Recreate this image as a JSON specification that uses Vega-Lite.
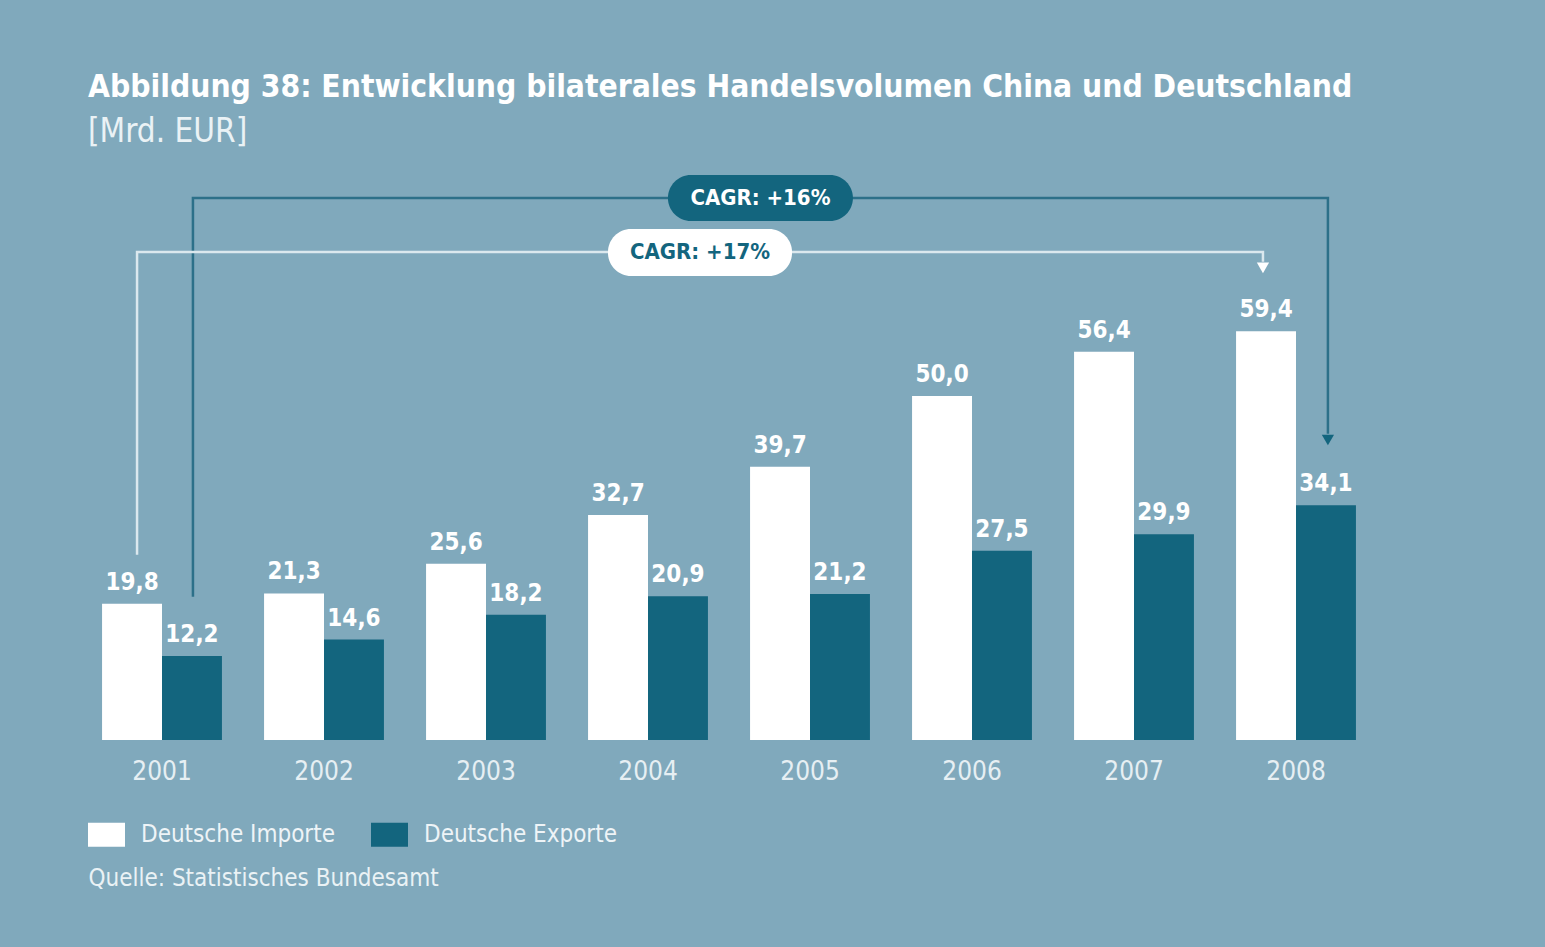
{
  "$schema": "https://vega.github.io/schema/vega-lite/v6.json",
  "autosize": "none",
  "width": 1296,
  "height": 585,
  "padding": {"left": 81, "top": 155, "right": 168, "bottom": 207},
  "background": "#80a9bc",
  "title": {
    "text": "Abbildung 38: Entwicklung bilaterales Handelsvolumen China und Deutschland",
    "subtitle": "[Mrd. EUR]",
    "anchor": "start",
    "frame": "group",
    "dx": 7,
    "offset": 6,
    "font": "Liberation Sans Narrow, DejaVu Sans Condensed, sans-serif",
    "fontSize": 31.5,
    "fontWeight": "bold",
    "color": "#ffffff",
    "subtitleFont": "Liberation Sans Narrow, DejaVu Sans Condensed, sans-serif",
    "subtitleFontSize": 33,
    "subtitleColor": "#eaf2f5",
    "subtitlePadding": 13
  },
  "config": {
    "view": {"stroke": null},
    "locale": {"number": {"decimal": ",", "thousands": ".", "grouping": [3], "currency": ["", " €"]}},
    "font": "Liberation Sans Narrow, DejaVu Sans Condensed, sans-serif"
  },
  "datasets": {
    "bars": [
      {"year": "2001", "series": "Deutsche Importe", "value": 19.8},
      {"year": "2001", "series": "Deutsche Exporte", "value": 12.2},
      {"year": "2002", "series": "Deutsche Importe", "value": 21.3},
      {"year": "2002", "series": "Deutsche Exporte", "value": 14.6},
      {"year": "2003", "series": "Deutsche Importe", "value": 25.6},
      {"year": "2003", "series": "Deutsche Exporte", "value": 18.2},
      {"year": "2004", "series": "Deutsche Importe", "value": 32.7},
      {"year": "2004", "series": "Deutsche Exporte", "value": 20.9},
      {"year": "2005", "series": "Deutsche Importe", "value": 39.7},
      {"year": "2005", "series": "Deutsche Exporte", "value": 21.2},
      {"year": "2006", "series": "Deutsche Importe", "value": 50.0},
      {"year": "2006", "series": "Deutsche Exporte", "value": 27.5},
      {"year": "2007", "series": "Deutsche Importe", "value": 56.4},
      {"year": "2007", "series": "Deutsche Exporte", "value": 29.9},
      {"year": "2008", "series": "Deutsche Importe", "value": 59.4},
      {"year": "2008", "series": "Deutsche Exporte", "value": 34.1}
    ],
    "darkPath": [
      {"pos": 2001.191, "v": 20.8, "o": 1},
      {"pos": 2001.191, "v": 78.76, "o": 2},
      {"pos": 2008.197, "v": 78.76, "o": 3},
      {"pos": 2008.197, "v": 44.5, "o": 4}
    ],
    "whitePath": [
      {"pos": 2000.846, "v": 26.9, "o": 1},
      {"pos": 2000.846, "v": 70.91, "o": 2},
      {"pos": 2007.796, "v": 70.91, "o": 3},
      {"pos": 2007.796, "v": 69.5, "o": 4}
    ],
    "arrows": [
      {"pos": 2008.197, "v": 43.6, "kind": "dark"},
      {"pos": 2007.796, "v": 68.6, "kind": "white"}
    ],
    "pills": [
      {"x1": 2004.123, "x2": 2005.265, "y1": 82.1, "y2": 75.41, "xc": 2004.694, "yc": 78.76, "label": "CAGR: +16%", "kind": "dark"},
      {"x1": 2003.753, "x2": 2004.889, "y1": 74.25, "y2": 67.42, "xc": 2004.321, "yc": 70.91, "label": "CAGR: +17%", "kind": "white"}
    ]
  },
  "resolve": {"scale": {"x": "independent", "color": "independent"}},
  "layer": [
    {
      "data": {"name": "bars"},
      "mark": {"type": "bar"},
      "encoding": {
        "x": {
          "field": "year", "type": "nominal",
          "scale": {"paddingInner": 0.26, "paddingOuter": 0.13},
          "axis": {
            "labelAngle": 0, "ticks": false, "domain": false, "grid": false,
            "labelFontSize": 26, "labelColor": "#e6eff3", "labelPadding": 18,
            "title": "Quelle: Statistisches Bundesamt",
            "titleAnchor": "start", "titleAlign": "left", "titleX": 7, "titleY": 126,
            "titleFontSize": 24, "titleFontWeight": "normal", "titleColor": "#eaf2f5"
          }
        },
        "xOffset": {"field": "series", "type": "nominal", "sort": ["Deutsche Importe", "Deutsche Exporte"], "scale": {"paddingInner": 0}},
        "y": {"field": "value", "type": "quantitative", "scale": {"domain": [0, 85], "nice": false}, "axis": null},
        "color": {
          "field": "series", "type": "nominal",
          "scale": {"domain": ["Deutsche Importe", "Deutsche Exporte"], "range": ["#ffffff", "#13657e"]},
          "legend": {
            "title": null, "orient": "none", "direction": "horizontal",
            "legendX": 7, "legendY": 661,
            "symbolType": "M-1,-0.65L1,-0.65L1,0.65L-1,0.65Z",
            "symbolSize": 1369, "symbolStrokeWidth": 0, "symbolOpacity": 1,
            "labelFontSize": 24, "labelColor": "#eef4f7", "labelOffset": 16,
            "labelLimit": 0, "columnPadding": 36
          }
        }
      }
    },
    {
      "data": {"name": "bars"},
      "mark": {"type": "text", "baseline": "bottom", "dy": -9, "fontSize": 24, "fontWeight": "bold", "color": "#ffffff"},
      "encoding": {
        "x": {"field": "year", "type": "nominal", "scale": {"paddingInner": 0.26, "paddingOuter": 0.13}, "axis": null},
        "xOffset": {"field": "series", "type": "nominal", "sort": ["Deutsche Importe", "Deutsche Exporte"], "scale": {"paddingInner": 0}},
        "y": {"field": "value", "type": "quantitative"},
        "text": {"field": "value", "type": "quantitative", "format": ".1f"}
      }
    },
    {
      "data": {"name": "darkPath"},
      "mark": {"type": "line", "color": "#2c7089", "strokeWidth": 2.5, "interpolate": "linear"},
      "encoding": {
        "x": {"field": "pos", "type": "quantitative", "scale": {"domain": [2000.5, 2008.5], "nice": false, "zero": false}, "axis": null},
        "y": {"field": "v", "type": "quantitative"},
        "order": {"field": "o"}
      }
    },
    {
      "data": {"name": "whitePath"},
      "mark": {"type": "line", "color": "#dbe8ee", "strokeWidth": 2.5, "interpolate": "linear"},
      "encoding": {
        "x": {"field": "pos", "type": "quantitative", "scale": {"domain": [2000.5, 2008.5], "nice": false, "zero": false}, "axis": null},
        "y": {"field": "v", "type": "quantitative"},
        "order": {"field": "o"}
      }
    },
    {
      "data": {"name": "arrows"},
      "mark": {"type": "point", "shape": "triangle-down", "filled": true, "size": 150, "opacity": 1},
      "encoding": {
        "x": {"field": "pos", "type": "quantitative", "scale": {"domain": [2000.5, 2008.5], "nice": false, "zero": false}, "axis": null},
        "y": {"field": "v", "type": "quantitative"},
        "color": {"field": "kind", "type": "nominal", "scale": {"domain": ["dark", "white"], "range": ["#13657e", "#ffffff"]}, "legend": null}
      }
    },
    {
      "data": {"name": "pills"},
      "mark": {"type": "rect", "cornerRadius": 23},
      "encoding": {
        "x": {"field": "x1", "type": "quantitative", "scale": {"domain": [2000.5, 2008.5], "nice": false, "zero": false}, "axis": null},
        "x2": {"field": "x2"},
        "y": {"field": "y1", "type": "quantitative"},
        "y2": {"field": "y2"},
        "color": {"field": "kind", "type": "nominal", "scale": {"domain": ["dark", "white"], "range": ["#13657e", "#ffffff"]}, "legend": null}
      }
    },
    {
      "data": {"name": "pills"},
      "mark": {"type": "text", "fontSize": 22, "fontWeight": "bold", "baseline": "middle", "align": "center"},
      "encoding": {
        "x": {"field": "xc", "type": "quantitative", "scale": {"domain": [2000.5, 2008.5], "nice": false, "zero": false}, "axis": null},
        "y": {"field": "yc", "type": "quantitative"},
        "text": {"field": "label"},
        "color": {"field": "kind", "type": "nominal", "scale": {"domain": ["dark", "white"], "range": ["#ffffff", "#13657e"]}, "legend": null}
      }
    }
  ]
}
